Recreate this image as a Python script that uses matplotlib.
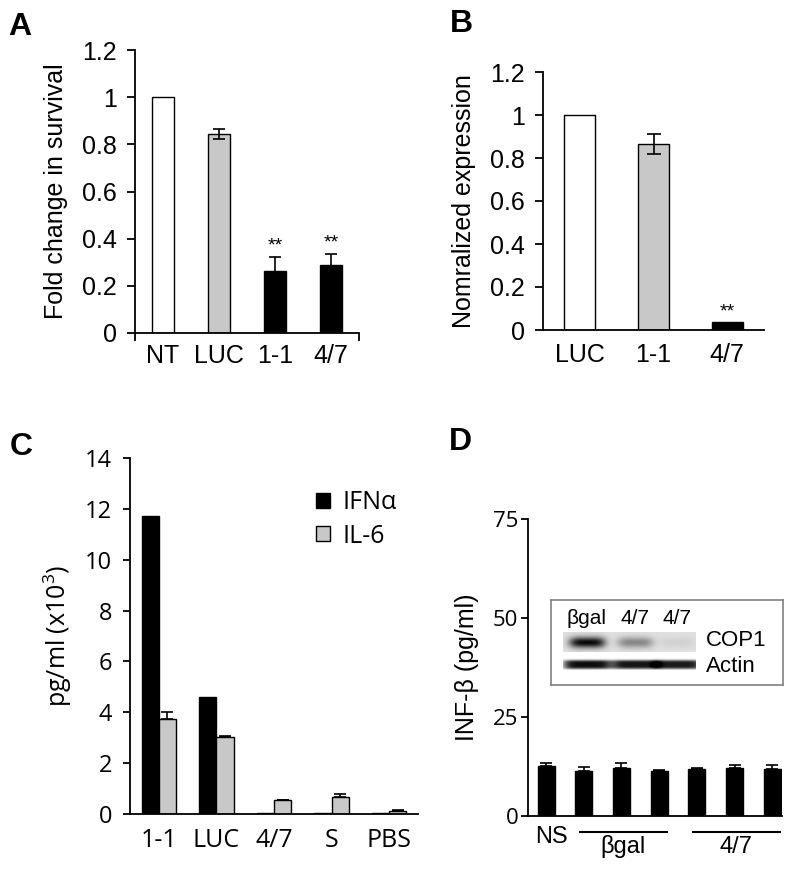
import numpy as np
import matplotlib
matplotlib.use("Agg")
import matplotlib.pyplot as plt
from matplotlib.patches import Patch

plt.rcParams['font.family'] = ['Liberation Sans', 'DejaVu Sans']
plt.rcParams['mathtext.fontset'] = 'custom'
plt.rcParams['mathtext.rm'] = 'Open Sans'
plt.rcParams['mathtext.default'] = 'rm'

GRAY = '#c8c8c8'
OPEN = ['Open Sans', 'DejaVu Sans']

# Панель A
a_labels = ['NT', 'LUC', '1-1', '4/7']
a_values = [1.0, 0.843, 0.263, 0.288]
a_err = [0.0, 0.02, 0.06, 0.047]
a_colors = ['white', GRAY, 'black', 'black']
a_stars = [False, False, True, True]

# Панель B
b_labels = ['LUC', '1-1', '4/7']
b_values = [1.0, 0.865, 0.037]
b_err = [0.0, 0.045, 0.0]
b_colors = ['white', GRAY, 'black']
b_stars = [False, False, True]

# Панель C
c_labels = ['1-1', 'LUC', '4/7', 'S', 'PBS']
c_ifn = [11.72, 4.6, 0.03, 0.03, 0.03]
c_il6 = [3.74, 3.03, 0.55, 0.65, 0.1]
c_il6_err = [0.27, 0.03, 0.02, 0.13, 0.05]

# Панель D
d_values = [12.6, 11.4, 12.1, 11.4, 11.8, 12.1, 11.8]
d_err = [0.9, 1.0, 1.3, 0.3, 0.3, 0.8, 1.2]
d_groups = [('NS', 0, 0), ('βgal', 1, 3), ('4/7', 4, 6)]
blot_lanes = ['βgal', '4/7', '4/7']
cop1_band = [0.85, 0.35, 0.06]
actin_band = [0.95, 0.92, 0.9]

fig = plt.figure(figsize=(8, 8.69), dpi=100)
W, H = 800, 869


def px_axes(left, top, right, bottom):
    return fig.add_axes([left / W, 1 - bottom / H, (right - left) / W, (bottom - top) / H])


def style(ax):
    for s in ['top', 'right']:
        ax.spines[s].set_visible(False)
    for s in ['left', 'bottom']:
        ax.spines[s].set_linewidth(1.3)
    ax.tick_params(axis='y', length=6, width=1.3, direction='out')
    ax.tick_params(axis='x', length=0)


# --- A ---
ax = px_axes(135, 50, 359, 333)
style(ax)
xa = np.arange(len(a_labels))
ax.bar(xa, a_values, width=0.4, color=a_colors, edgecolor='black', linewidth=1)
for i in range(len(xa)):
    if a_err[i] > 0:
        ax.errorbar(xa[i], a_values[i], yerr=a_err[i], fmt='none', ecolor='black',
                    elinewidth=1.2, capsize=4, capthick=1.2)
    if a_stars[i]:
        ax.text(xa[i], a_values[i] + a_err[i] + 0.012, '**', ha='center', va='bottom', fontsize=14)
ax.set_xlim(-0.5, 3.5)
ax.set_ylim(0, 1.2)
ax.set_yticks([0, 0.2, 0.4, 0.6, 0.8, 1.0, 1.2])
ax.set_yticklabels(['0', '0.2', '0.4', '0.6', '0.8', '1', '1.2'], fontsize=18)
ax.tick_params(axis='y', pad=7)
ax.set_xticks(xa)
ax.set_xticklabels(a_labels, fontsize=18)
ax.tick_params(axis='x', pad=8)
ax.set_xticks([-0.5, 3.5], minor=True)
ax.tick_params(axis='x', which='minor', length=6, width=1.3)
ax.set_ylabel('Fold change in survival', fontsize=18, labelpad=10)
fig.text(8 / W, 1 - 35 / H, 'A', fontsize=23, fontweight='bold', va='baseline')

# --- B ---
ax = px_axes(543, 72, 764, 330)
style(ax)
xb = np.arange(len(b_labels))
ax.bar(xb, b_values, width=0.42, color=b_colors, edgecolor='black', linewidth=1)
for i in range(len(xb)):
    if b_err[i] > 0:
        ax.errorbar(xb[i], b_values[i], yerr=b_err[i], fmt='none', ecolor='black',
                    elinewidth=1.2, capsize=5, capthick=1.2)
    if b_stars[i]:
        ax.text(xb[i], b_values[i] + 0.008, '**', ha='center', va='bottom', fontsize=14)
ax.set_xlim(-0.5, 2.5)
ax.set_ylim(0, 1.2)
ax.set_yticks([0, 0.2, 0.4, 0.6, 0.8, 1.0, 1.2])
ax.set_yticklabels(['0', '0.2', '0.4', '0.6', '0.8', '1', '1.2'], fontsize=18)
ax.tick_params(axis='y', pad=7)
ax.set_xticks(xb)
ax.set_xticklabels(b_labels, fontsize=18)
ax.tick_params(axis='x', pad=9)
ax.set_ylabel('Nomralized expression', fontsize=18, labelpad=10)
fig.text(450 / W, 1 - 32 / H, 'B', fontsize=23, fontweight='bold', va='baseline')

# --- C ---
ax = px_axes(130, 458, 418, 814)
style(ax)
xc = np.arange(len(c_labels))
w = 0.3
ax.bar(xc - w / 2, c_ifn, width=w, color='black', edgecolor='black', linewidth=1)
ax.bar(xc + w / 2, c_il6, width=w, color=GRAY, edgecolor='black', linewidth=1)
ax.errorbar(xc + w / 2, c_il6, yerr=[[0] * len(xc), c_il6_err], fmt='none', ecolor='black',
            elinewidth=1.2, capsize=4, capthick=1.2)
ax.set_xlim(-0.5, 4.5)
ax.set_ylim(0, 14)
ax.set_yticks(range(0, 15, 2))
ax.tick_params(axis='y', length=5, pad=8)
for t in ax.get_yticklabels():
    t.set_family(OPEN)
    t.set_fontsize(17)
ax.set_xticks(xc)
ax.set_xticklabels(c_labels, fontsize=18, family=OPEN)
ax.tick_params(axis='x', pad=10)
ax.set_ylabel(r'pg/ml (x10$^{3}$)', fontsize=18, family=OPEN, labelpad=8)
handles = [Patch(facecolor='black', edgecolor='black'), Patch(facecolor=GRAY, edgecolor='black')]
ax.legend(handles, ['IFNα', 'IL-6'], loc='upper left', bbox_to_anchor=(316 / W, 1 - 490 / H),
          bbox_transform=fig.transFigure, frameon=False, handlelength=0.55, handleheight=0.55,
          handletextpad=0.5, labelspacing=0.35, borderpad=0, borderaxespad=0,
          prop={'family': OPEN, 'size': 18})
fig.text(10 / W, 1 - 455 / H, 'C', fontsize=23, fontweight='bold', va='baseline')

# --- D ---
ax = px_axes(528, 519, 782, 816)
style(ax)
xd = np.arange(len(d_values))
ax.bar(xd, d_values, width=0.45, color='black', edgecolor='black', linewidth=1)
ax.errorbar(xd, d_values, yerr=[[0] * len(xd), d_err], fmt='none', ecolor='black',
            elinewidth=1.2, capsize=4, capthick=1.2)
ax.set_xlim(-0.48, 6.26)
ax.set_ylim(0, 75)
ax.set_yticks([0, 25, 50, 75])
ax.tick_params(axis='y', length=5, pad=2)
for t in ax.get_yticklabels():
    t.set_family(OPEN)
    t.set_fontsize(16)
ax.set_xticks([])
ax.set_ylabel('INF-β (pg/ml)', fontsize=18, labelpad=10)
tr = ax.get_xaxis_transform()
for name, i0, i1 in d_groups:
    if i0 == i1:
        ax.text(xd[i0] + 0.15, -0.07, name, transform=tr, ha='center', va='center', fontsize=17)
    else:
        x0, x1 = xd[i0] - 0.1, xd[i1] + 0.2
        ax.plot([x0, x1], [-0.054, -0.054], transform=tr, color='black', lw=1.5, clip_on=False)
        ax.text((x0 + x1) / 2, -0.104, name, transform=tr, ha='center', va='center', fontsize=17)
fig.text(449 / W, 1 - 450 / H, 'D', fontsize=23, fontweight='bold', va='baseline')

# вставка с блотом
ins = px_axes(551, 600, 783, 685)
ins.set_xticks([])
ins.set_yticks([])
for s in ins.spines.values():
    s.set_edgecolor('#808080')
    s.set_linewidth(1.2)
lane_px = [587, 635, 677]
for lx, name in zip(lane_px, blot_lanes):
    fig.text(lx / W, 1 - 618 / H, name, ha='center', va='center', fontsize=15)
fig.text(706 / W, 1 - 641 / H, 'COP1', ha='left', va='center', fontsize=16)
fig.text(706 / W, 1 - 667 / H, 'Actin', ha='left', va='center', fontsize=16)

blot = px_axes(563, 632, 696, 670)
blot.axis('off')
bh, bw = 38, 133
yy, xx = np.mgrid[0:bh, 0:bw]
img = np.zeros((bh, bw))
cop = yy < 20
img[cop] = 0.12
lane_x = [lx - 563 for lx in lane_px]
for cx, a in zip(lane_x, cop1_band):
    img += a * np.exp(-((xx - cx) / 18.0) ** 4) * np.exp(-((yy - 10) / 5.5) ** 2) * cop
for cx, a in zip(lane_x, actin_band):
    img += a * np.exp(-((xx - cx) / 24.0) ** 6) * np.exp(-((yy - 32) / 4.5) ** 4)
img = np.clip(img, 0, 1)
blot.imshow(img, cmap='gray_r', vmin=0, vmax=1, aspect='auto', interpolation='bilinear')

fig.savefig('out.png', dpi=100)
